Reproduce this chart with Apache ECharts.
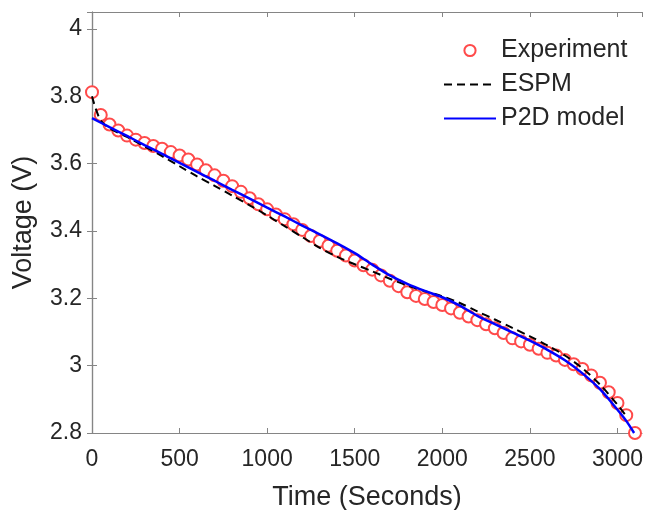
<!DOCTYPE html>
<html>
<head>
<meta charset="utf-8">
<script src="https://cdn.jsdelivr.net/npm/echarts@6/dist/echarts.min.js"></script>
<style>html,body{margin:0;padding:0;background:#fff;}#c{width:647px;height:510px;}</style>
</head>
<body>
<div id="c"></div>
<script>
// Experiment (time in s, voltage in V)
const expTime = [0,50,100,150,200,250,300,350,400,450,500,550,600,650,700,750,800,850,900,950,1000,1050,1100,1150,1200,1250,1300,1350,1400,1450,1500,1550,1600,1650,1700,1750,1800,1850,1900,1950,2000,2050,2100,2150,2200,2250,2300,2350,2400,2450,2500,2550,2600,2650,2700,2750,2800,2850,2900,2950,3000,3050,3100];
const expVolt = [3.812,3.744,3.716,3.698,3.683,3.671,3.661,3.652,3.644,3.634,3.624,3.612,3.597,3.580,3.565,3.549,3.533,3.516,3.497,3.479,3.464,3.449,3.435,3.420,3.403,3.385,3.370,3.356,3.341,3.327,3.312,3.298,3.285,3.268,3.252,3.236,3.218,3.207,3.198,3.189,3.180,3.170,3.157,3.146,3.135,3.123,3.111,3.097,3.081,3.072,3.062,3.050,3.038,3.030,3.017,3.004,2.990,2.971,2.949,2.921,2.889,2.853,2.800];
// ESPM
const espmTime = [0,20,50,100,200,300,400,500,600,700,800,900,1000,1100,1200,1300,1400,1500,1600,1700,1800,1900,2000,2100,2200,2300,2400,2500,2600,2700,2800,2900,3000,3050];
const espmVolt = [3.800,3.765,3.728,3.705,3.679,3.651,3.622,3.592,3.562,3.534,3.505,3.476,3.446,3.414,3.382,3.350,3.323,3.301,3.280,3.258,3.238,3.221,3.206,3.186,3.161,3.137,3.112,3.087,3.060,3.030,2.992,2.944,2.884,2.850];
// P2D model
const p2dTime = [0,100,200,300,400,500,600,700,800,900,1000,1100,1200,1300,1400,1500,1600,1700,1800,1900,2000,2100,2200,2300,2400,2500,2600,2700,2800,2900,3000,3050,3095];
const p2dVolt = [3.735,3.708,3.682,3.655,3.629,3.602,3.575,3.549,3.522,3.496,3.469,3.443,3.416,3.390,3.363,3.334,3.300,3.268,3.243,3.222,3.203,3.178,3.148,3.123,3.099,3.074,3.047,3.016,2.977,2.930,2.869,2.836,2.800];

const xTicks = {min: 0, max: 3140, interval: 500};
const yTicks = {min: 2.8, max: 4.05, interval: 0.2};

const zip = (a, b) => a.map((v, i) => [v, b[i]]);
const FONT = 'Liberation Sans, Arial, Helvetica, sans-serif';
const TXT = '#262626';
const AX = '#858585';

const chart = echarts.init(document.getElementById('c'), null, {renderer: 'canvas'});
const baseAxis = {
  type: 'value',
  axisLine: {show: true, lineStyle: {color: AX, width: 1.2}},
  axisTick: {show: true, inside: true, length: 5, lineStyle: {color: AX, width: 1}},
  splitLine: {show: false}
};
chart.setOption({
  animation: false,
  backgroundColor: '#fff',
  grid: {left: 92, right: 5, top: 12, bottom: 77, outerBoundsMode: 'none', containLabel: false},
  legend: {
    orient: 'vertical',
    left: 438, top: 33,
    itemWidth: 52, itemHeight: 14, itemGap: 9,
    textStyle: {fontFamily: FONT, fontSize: 25, color: TXT},
    data: [
      {name: 'Experiment'},
      {name: 'ESPM', itemStyle: {opacity: 0}},
      {name: 'P2D model', itemStyle: {opacity: 0}}
    ]
  },
  xAxis: [
    Object.assign({}, baseAxis, {
      position: 'bottom', min: xTicks.min, max: xTicks.max, interval: xTicks.interval,
      name: 'Time (Seconds)', nameLocation: 'middle', nameGap: 51,
      nameTextStyle: {fontFamily: FONT, fontSize: 27, color: TXT},
      axisLabel: {fontFamily: FONT, fontSize: 23, color: TXT, margin: 15, showMaxLabel: false,
        formatter: v => String(v)}
    }),
    Object.assign({}, baseAxis, {
      position: 'top', min: xTicks.min, max: xTicks.max, interval: xTicks.interval,
      axisLabel: {show: false}
    })
  ],
  yAxis: [
    Object.assign({}, baseAxis, {
      position: 'left', min: yTicks.min, max: yTicks.max, interval: yTicks.interval,
      name: 'Voltage (V)', nameLocation: 'middle', nameGap: 55,
      nameTextStyle: {fontFamily: FONT, fontSize: 27, color: TXT},
      axisLabel: {fontFamily: FONT, fontSize: 23, color: TXT, margin: 10, showMaxLabel: false,
        formatter: v => String(Math.round(v * 10) / 10)}
    }),
    Object.assign({}, baseAxis, {
      position: 'right', min: yTicks.min, max: yTicks.max, interval: yTicks.interval,
      axisLabel: {show: false}
    })
  ],
  series: [
    {
      name: 'Experiment', type: 'line', data: zip(expTime, expVolt),
      symbol: 'emptyCircle', symbolSize: 12, showAllSymbol: true,
      lineStyle: {opacity: 0, width: 0},
      itemStyle: {color: '#ff4a4a', borderColor: '#ff4a4a', borderWidth: 1.3},
      z: 2
    },
    {
      name: 'ESPM', type: 'line', data: zip(espmTime, espmVolt), smooth: 0.3,
      symbol: 'none',
      lineStyle: {color: '#000', width: 2, type: [8, 5]},
      itemStyle: {color: '#000'},
      z: 3
    },
    {
      name: 'P2D model', type: 'line', data: zip(p2dTime, p2dVolt), smooth: 0.3,
      symbol: 'none',
      lineStyle: {color: '#0000ff', width: 2.5},
      itemStyle: {color: '#0000ff'},
      z: 4
    }
  ]
});
</script>
</body>
</html>
